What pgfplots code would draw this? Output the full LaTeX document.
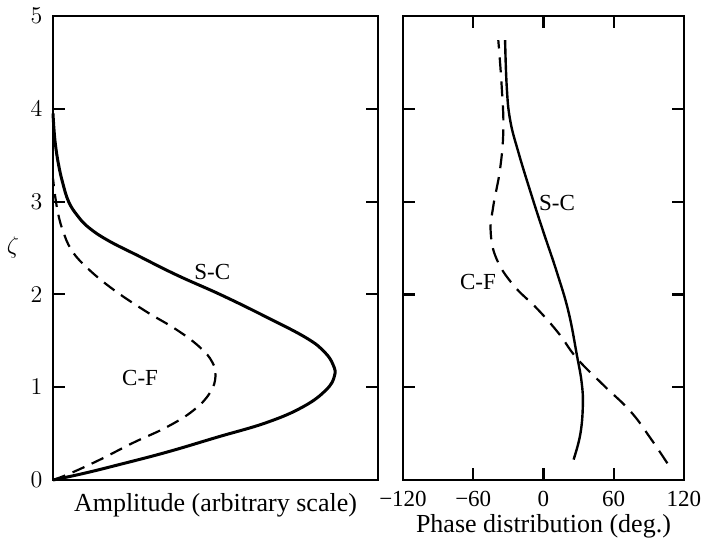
\documentclass[border=0pt]{standalone}
\usepackage{fontspec}
\setmainfont{Liberation Serif}
\usepackage{pgfplots}
\pgfplotsset{compat=1.18}
\begin{document}
\begin{tikzpicture}
\path[use as bounding box] (-26.5pt,-33pt) rectangle (325pt,240pt);
\pgfplotsset{
  every axis/.append style={
    scale only axis, height=232pt,
    ymin=0, ymax=5,
    axis line style={line width=1.4pt, black},
    every tick/.style={line width=1.1pt, black},
    tick align=inside, major tick length=6pt,
    tick label style={font=\fontsize{11.5}{13}\selectfont},
    label style={font=\fontsize{13}{15}\selectfont},
    xticklabel style={yshift=-2pt},
    yticklabel style={xshift=-1.8pt},
    clip=false,
  },
  SC/.style={black, line width=1.5pt, smooth, tension=0.7},
  CF/.style={black, line width=1.1pt, smooth, tension=0.7, dash pattern=on 6.5pt off 4pt},
}
\begin{axis}[
  at={(0pt,0pt)}, anchor=south west, width=162.5pt,
  xmin=0, xmax=1,
  xtick=\empty,
  ytick={0,1,2,3,4,5}, ytick pos=both, yticklabel pos=left,
  xlabel={Amplitude (arbitrary scale)},
  xlabel style={at={(axis description cs:0.5,0)}, anchor=base, yshift=-16pt},
]
\addplot[SC] coordinates {
 (0,0) (0.093,0.07) (0.197,0.16) (0.35,0.30) (0.504,0.46) (0.658,0.62)
 (0.77,0.79) (0.840,0.97) (0.866,1.12) (0.862,1.24) (0.835,1.38) (0.78,1.53)
 (0.66,1.75) (0.52,1.99) (0.38,2.21) (0.26,2.42) (0.17,2.58)
 (0.11,2.72) (0.075,2.85) (0.048,3.0) (0.030,3.2) (0.017,3.4)
 (0.008,3.6) (0.003,3.78) (0,3.95)
};
\addplot[CF] coordinates {
 (0,0) (0.052,0.07) (0.145,0.22) (0.246,0.40) (0.35,0.57) (0.432,0.75)
 (0.483,0.94) (0.500,1.12) (0.490,1.27) (0.452,1.43) (0.38,1.62)
 (0.28,1.83) (0.175,2.08) (0.095,2.32) (0.055,2.49) (0.032,2.67)
 (0.017,2.85) (0.007,3.05) (0,3.25)
};
\node[font=\fontsize{11.5}{13}\selectfont] at (axis cs:0.49,2.24) {S-C};
\node[font=\fontsize{11.5}{13}\selectfont] at (axis cs:0.268,1.10) {C-F};
\node[font=\fontsize{13}{15}\selectfont] at (axis description cs:0,0.5) [xshift=-20pt] {$\zeta$};
\end{axis}
\begin{axis}[
  at={(175pt,0pt)}, anchor=south west, width=140.5pt,
  xmin=-120, xmax=120,
  xtick={-120,-60,0,60,120}, xticklabels={−120,−60,0,60,120},
  xtick pos=both, xticklabel pos=bottom,
  ytick={0,1,2,3,4,5}, ytick pos=both, yticklabels={},
  xlabel={Phase distribution (deg.)},
  xlabel style={at={(axis description cs:0.5,0)}, anchor=base, yshift=-26.5pt},
]
\addplot[SC, line width=1.2pt] coordinates {
 (25.7,0.22) (31.4,0.49) (33.6,0.80) (32.6,1.05) (28.6,1.34) (21.4,1.81)
 (11.4,2.24) (0,2.67) (-10,3.06) (-21.4,3.53) (-28.5,3.88) (-31.4,4.24)
 (-32.8,4.74)
};
\addplot[CF, dash pattern=on 7.5pt off 4.5pt] coordinates {
 (105.8,0.18) (91.4,0.45) (74.3,0.74) (51.4,1.02) (28.6,1.31) (13,1.58)
 (-5,1.84) (-25.7,2.10) (-40,2.38) (-45.1,2.67) (-42.9,2.95)
 (-37.1,3.35) (-34.3,3.78) (-35.7,4.24) (-38.6,4.74)
};
\node[font=\fontsize{11.5}{13}\selectfont] at (axis cs:11.5,2.99) {S-C};
\node[font=\fontsize{11.5}{13}\selectfont] at (axis cs:-56,2.13) {C-F};
\end{axis}
\end{tikzpicture}
\end{document}
